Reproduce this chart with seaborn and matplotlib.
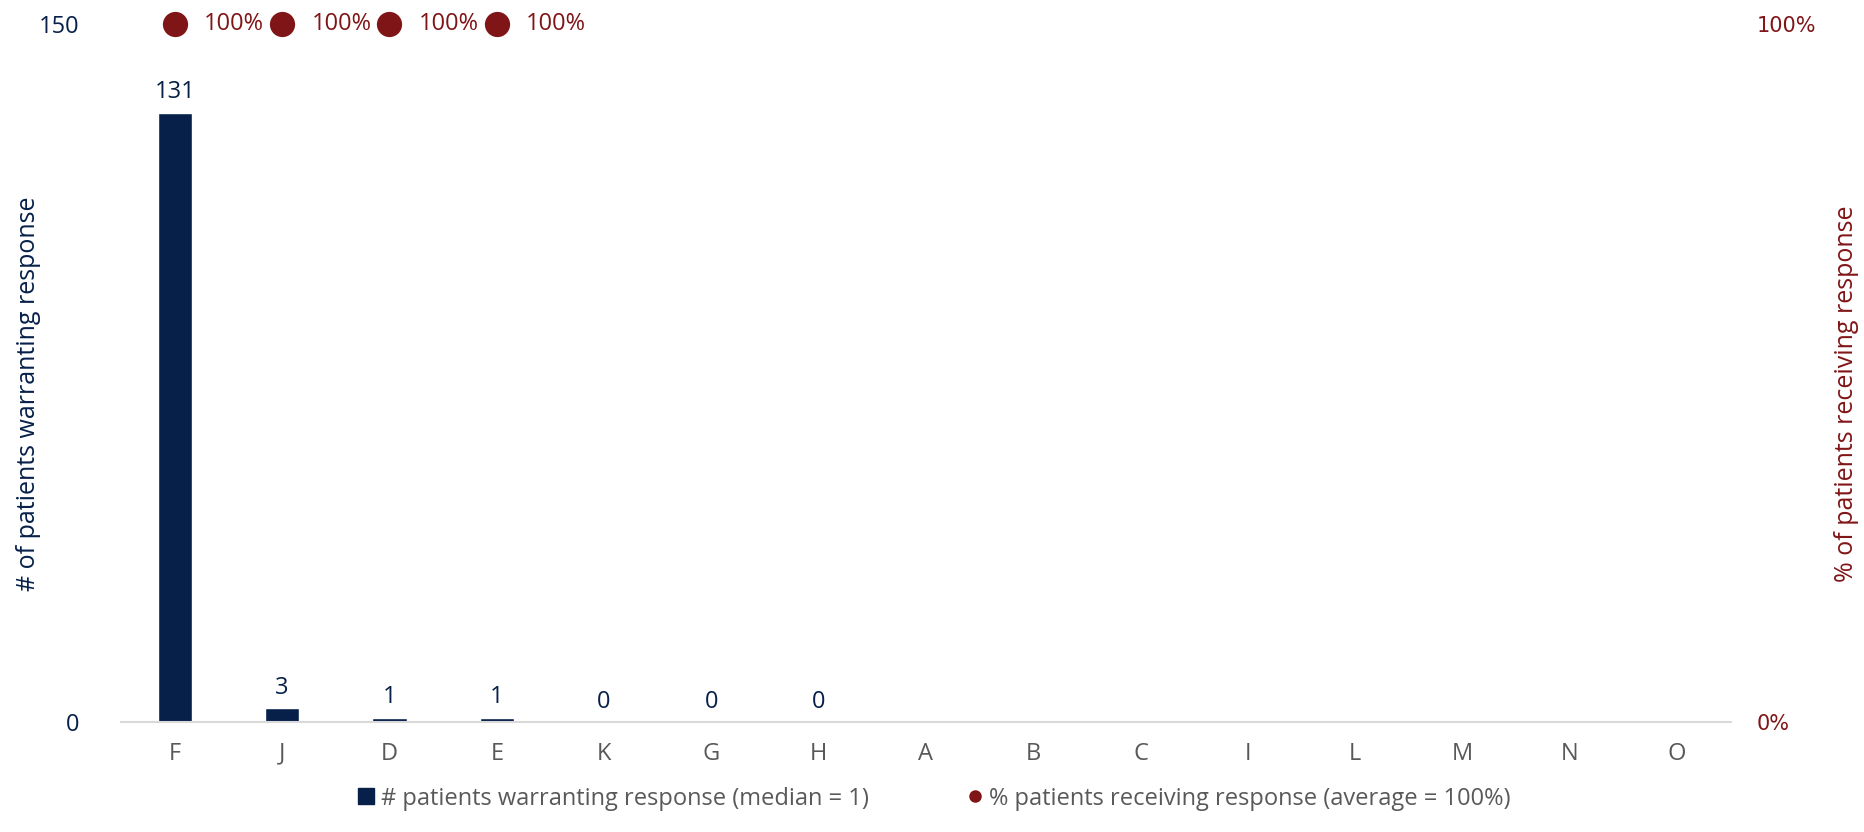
import matplotlib
matplotlib.use("Agg")
import matplotlib.pyplot as plt
from matplotlib.lines import Line2D
import numpy as np
import pandas as pd
import seaborn as sns

# values
categories = ["F", "J", "D", "E", "K", "G", "H", "A", "B", "C", "I", "L", "M", "N", "O"]
patients_warranting = [131, 3, 1, 1, 0, 0, 0, np.nan, np.nan, np.nan, np.nan, np.nan, np.nan, np.nan, np.nan]
pct_receiving = [100, 100, 100, 100, np.nan, np.nan, np.nan, np.nan, np.nan, np.nan, np.nan, np.nan, np.nan, np.nan, np.nan]
left_ticks = [0, 150]
right_ticks = [0, 100]

NAVY = "#06204a"
RED = "#801517"
GREY = "#595959"

sns.set_theme(style="white")
plt.rcParams["font.family"] = ["Open Sans", "DejaVu Sans"]

df = pd.DataFrame({"site": categories, "n": patients_warranting, "pct": pct_receiving})

fig = plt.figure(figsize=(18.65, 8.32), dpi=100)
ax = fig.add_axes([0.065, 0.132, 0.863, 0.839])

sns.barplot(data=df.dropna(subset=["n"]), x="site", y="n", order=categories,
            color=NAVY, width=0.32, saturation=1, ax=ax)
for c in ax.containers:
    ax.bar_label(c, fmt="%d", padding=6, fontsize=17, color=NAVY)

ax.set_xlim(-0.5, len(categories) - 0.5)
ax.set_ylim(0, 150)
ax.set_yticks(left_ticks)
ax.set_yticklabels([str(t) for t in left_ticks], color=NAVY, fontsize=17)
ax.tick_params(axis="y", length=0, pad=30)
ax.tick_params(axis="x", length=0, pad=14, labelsize=17, labelcolor=GREY)
ax.set_xlabel("")
ax.set_ylabel("# of patients warranting response", color=NAVY, fontsize=18)
ax.yaxis.set_label_coords(-0.05, 0.47)
for s in ["top", "right", "left"]:
    ax.spines[s].set_visible(False)
ax.spines["bottom"].set_color("#d9d9d9")
ax.spines["bottom"].set_linewidth(1.5)

ax2 = ax.twinx()
pts = df.dropna(subset=["pct"])
sns.scatterplot(data=pts, x="site", y="pct", color=RED, s=330, edgecolor=RED,
                linewidth=0, ax=ax2, clip_on=False, legend=False, zorder=5)
for x, v in zip(pts.index, pts["pct"]):
    ax2.annotate(f"{v:.0f}%", (x, v), xytext=(21, 0), textcoords="offset points",
                 va="center", ha="left", color=RED, fontsize=17, annotation_clip=False)
ax2.set_ylim(0, 100)
ax2.set_yticks(right_ticks)
ax2.set_yticklabels([f"{t}%" for t in right_ticks], color=RED, fontsize=15,
                    family="DejaVu Sans")
ax2.tick_params(axis="y", length=0, pad=19)
ax2.set_ylabel("% of patients receiving response", color=RED, fontsize=18)
ax2.yaxis.set_label_coords(1.064, 0.47)
ax2.set_xlim(-0.5, len(categories) - 0.5)
for s in ax2.spines.values():
    s.set_visible(False)

handles = [
    Line2D([], [], marker="s", color=NAVY, linestyle="", markersize=12),
    Line2D([], [], marker="o", color=RED, linestyle="", markersize=8),
]
labels = ["# patients warranting response (median = 1)",
          "% patients receiving response (average = 100%)"]
fig.legend(handles, labels, loc="lower center", bbox_to_anchor=(0.5, 0.0), ncol=2,
           frameon=False, fontsize=17, labelcolor=GREY, columnspacing=4,
           handletextpad=0.1, handlelength=1)

fig.savefig("out.png", dpi=100)
